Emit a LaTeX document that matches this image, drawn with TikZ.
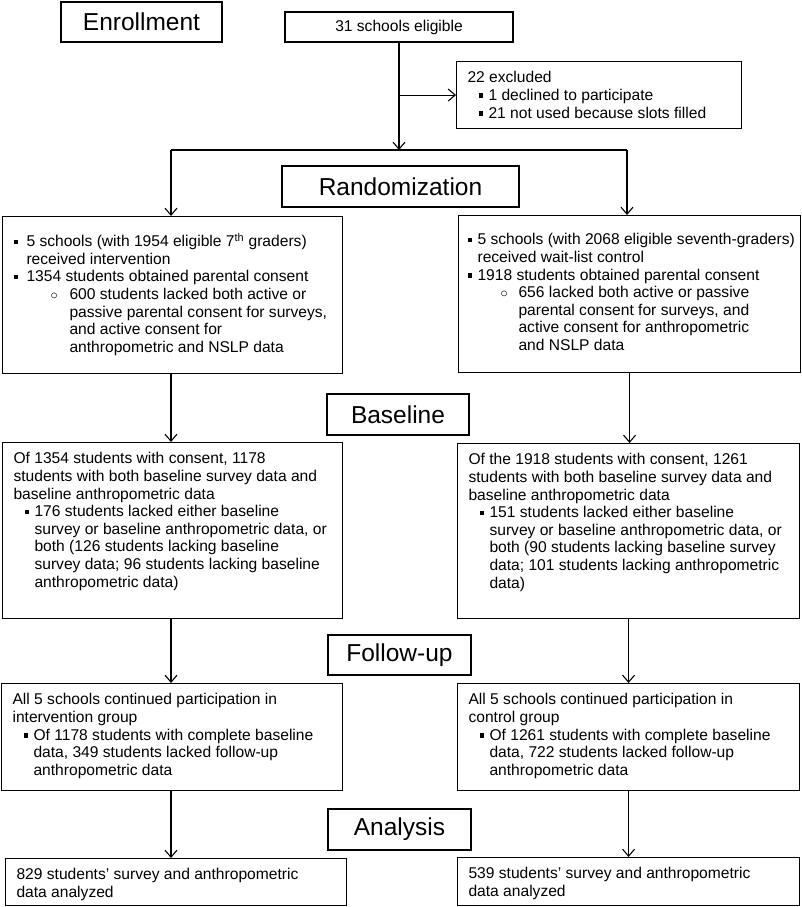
\documentclass[tikz,border=0pt]{standalone}
\usepackage{fontspec}
\setmainfont{Liberation Sans}
\usetikzlibrary{arrows.meta}

% bullets and indents used inside the boxes
\newcommand{\sqmark}{\raisebox{2.5pt}{\rule{4.5pt}{4.5pt}}}
\newcommand{\bsq}{\makebox[13pt][l]{\sqmark}}
\newcommand{\bsqin}{\hspace*{13pt}}
\newcommand{\bci}{\hspace*{37pt}\makebox[19pt][l]{$\circ$}}
\newcommand{\bciin}{\hspace*{56pt}}
% the wait-list box sits a little tighter
\newcommand{\bsqw}{\hspace*{-2pt}\makebox[10pt][l]{\sqmark}}
\newcommand{\bsqwin}{\hspace*{8pt}}
\newcommand{\bciw}{\hspace*{31pt}\makebox[18pt][l]{$\circ$}}
\newcommand{\bciwin}{\hspace*{49pt}}
\newcommand{\bsub}{\hspace*{11pt}\makebox[10pt][l]{\sqmark}}
\newcommand{\bsubin}{\hspace*{21pt}}
% box text: [top space] outer width, outer height (px), contents
\newcommand{\cbox}[4][0pt]{\parbox[t][\dimexpr#3pt-18pt\relax][t]{\dimexpr#2pt-22pt\relax}{\raggedright\vspace*{#1}\strut#4}}

\tikzset{
  stage/.style={draw, line width=1.1pt, inner sep=0pt,
    font=\fontsize{24.5}{28}\selectfont},
  box/.style={draw, line width=1.1pt, anchor=north west,
    inner xsep=11pt, inner ysep=9pt, font=\fontsize{15.6}{17.6}\selectfont},
  link/.style={line width=1.1pt},
  arr/.style={line width=1.1pt, -{Straight Barb[length=7pt,width=12pt]}}
}

\begin{document}
\begin{tikzpicture}[x=1pt, y=-1pt]
  \useasboundingbox (0,0) rectangle (802,907);

  % stage headings
  \node[stage, minimum width=161pt, minimum height=40pt] (enroll) at (141.5,22) {Enrollment};
  \node[stage, minimum width=237pt, minimum height=41pt] (rand) at (400.5,186.5) {Randomization};
  \node[stage, minimum width=142pt, minimum height=41pt] (base) at (398,414.5) {Baseline};
  \node[stage, minimum width=143pt, minimum height=40pt] (follow) at (399.5,655) {Follow-up};
  \node[stage, minimum width=143pt, minimum height=41pt] (analysis) at (399.5,829.5) {Analysis};

  % enrollment
  \node[draw, line width=1.1pt, inner sep=0pt, minimum width=228pt, minimum height=30pt,
    font=\fontsize{15.6}{17.6}\selectfont] (eligible) at (399,27) {31 schools eligible};
  \node[box] (excluded) at (456,61) {\cbox{285}{67}{22 excluded\\
    \bsub 1 declined to participate\\
    \bsub 21 not used because slots filled}};

  % randomization
  \node[box] (interv) at (2,216) {\cbox[8pt]{340}{157}{%
    \bsq 5 schools (with 1954 eligible 7\textsuperscript{th} graders)\\
    \bsqin received intervention\\
    \bsq 1354 students obtained parental consent\\
    \bci 600 students lacked both active or\\
    \bciin passive parental consent for surveys,\\
    \bciin and active consent for\\
    \bciin anthropometric and NSLP data}};
  \node[box] (waitl) at (458,215) {\cbox[8pt]{342}{157}{%
    \mbox{\bsqw 5 schools (with 2068 eligible seventh-graders)}\\
    \bsqwin received wait-list control\\
    \bsqw 1918 students obtained parental consent\\
    \bciw 656 lacked both active or passive\\
    \bciwin parental consent for surveys, and\\
    \bciwin active consent for anthropometric\\
    \bciwin and NSLP data}};

  % baseline
  \node[box] (baseL) at (2,442) {\cbox{340}{176}{Of 1354 students with consent, 1178\\
    students with both baseline survey data and\\
    baseline anthropometric data\\
    \bsub 176 students lacked either baseline\\
    \bsubin survey or baseline anthropometric data, or\\
    \bsubin both (126 students lacking baseline\\
    \bsubin survey data; 96 students lacking baseline\\
    \bsubin anthropometric data)}};
  \node[box] (baseR) at (457,443) {\cbox{342}{175}{Of the 1918 students with consent, 1261\\
    students with both baseline survey data and\\
    baseline anthropometric data\\
    \bsub 151 students lacked either baseline\\
    \bsubin survey or baseline anthropometric data, or\\
    \bsubin both (90 students lacking baseline survey\\
    \bsubin data; 101 students lacking anthropometric\\
    \bsubin data)}};

  % follow-up
  \node[box] (fuL) at (1,683) {\cbox{341}{107}{All 5 schools continued participation in\\
    intervention group\\
    \bsub Of 1178 students with complete baseline\\
    \bsubin data, 349 students lacked follow-up\\
    \bsubin anthropometric data}};
  \node[box] (fuR) at (457,683) {\cbox{342}{107}{All 5 schools continued participation in\\
    control group\\
    \bsub Of 1261 students with complete baseline\\
    \bsubin data, 722 students lacked follow-up\\
    \bsubin anthropometric data}};

  % analysis
  \node[box] (anL) at (5,858) {\cbox{341}{47}{829 students’ survey and anthropometric\\
    data analyzed}};
  \node[box] (anR) at (457,857) {\cbox{342}{48}{539 students’ survey and anthropometric\\
    data analyzed}};

  % connectors
  \coordinate (split) at (399,150);
  \coordinate (splitL) at (171,150);
  \coordinate (splitR) at (627,150);
  \draw[arr] (eligible) -- (split);
  \draw[arr] (eligible.south |- excluded.west) -- (excluded.west);
  \draw[link] (splitL) -- (splitR);
  \draw[arr] (splitL) -- (splitL |- interv.north);
  \draw[arr] (splitR) -- (splitR |- waitl.north);
  \draw[arr] (interv.south -| splitL) -- (splitL |- baseL.north);
  \draw[arr] (baseL.south -| splitL) -- (splitL |- fuL.north);
  \draw[arr] (fuL.south -| splitL) -- (splitL |- anL.north);
  \draw[arr] (waitl.south) -- (waitl.south |- baseR.north);
  \draw[arr] (baseR.south) -- (baseR.south |- fuR.north);
  \draw[arr] (fuR.south) -- (fuR.south |- anR.north);
\end{tikzpicture}
\end{document}
